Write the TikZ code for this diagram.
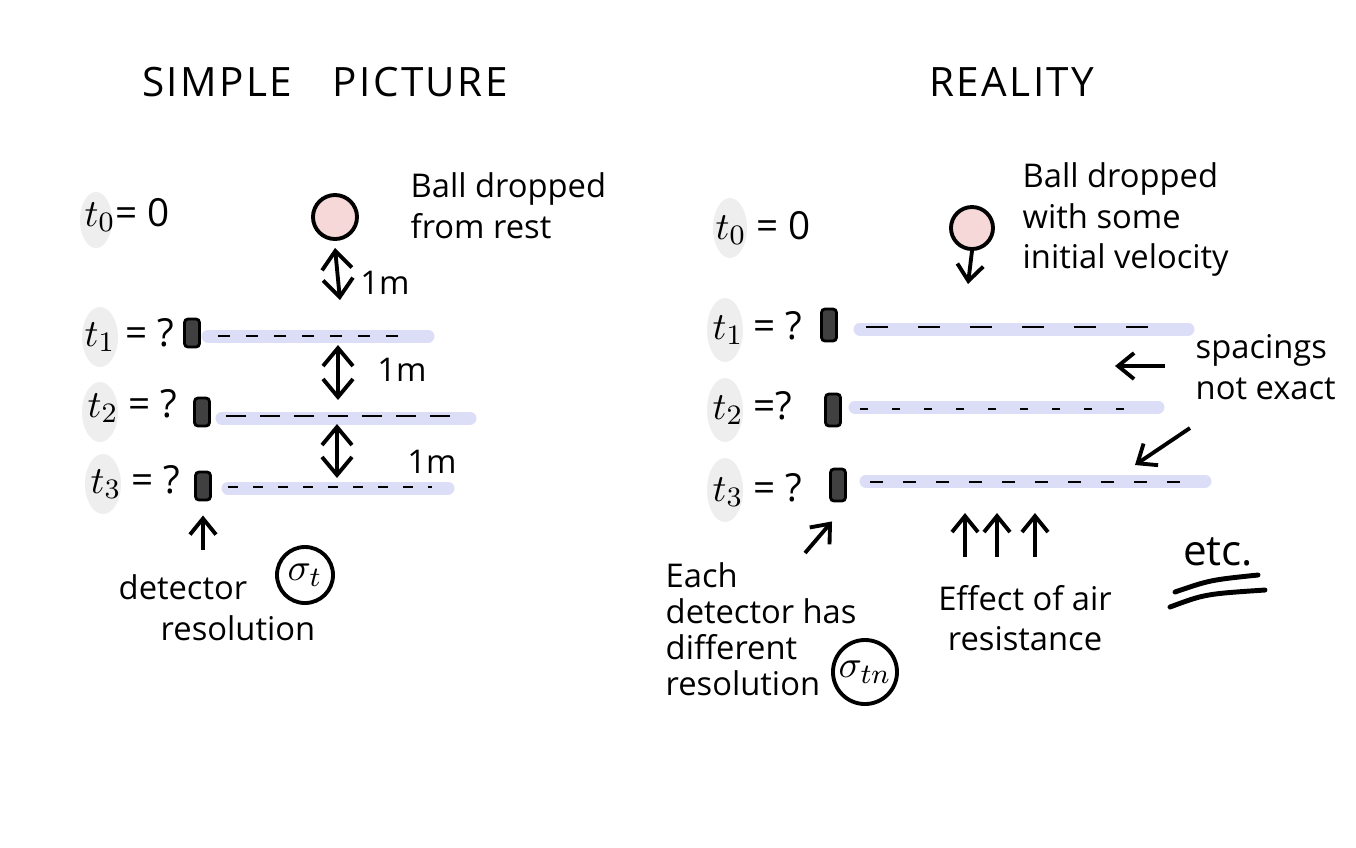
\documentclass[tikz,border=0pt]{standalone}
\usepackage{fontspec}
\setmainfont{Open Sans}
\usetikzlibrary{arrows.meta}

\definecolor{trackblue}{RGB}{220,222,248}
\definecolor{ballpink}{RGB}{246,216,216}
\definecolor{blobgrey}{RGB}{238,238,238}

\tikzset{
  blob/.style={fill=blobgrey},
  hand/.style={font=\fontsize{9.3}{11.5}\selectfont, align=left, inner sep=0pt},
  tlabel/.style={font=\fontsize{11}{13}\selectfont, inner sep=0pt, anchor=west},
  title/.style={font=\fontsize{11.5}{14}\selectfont\addfontfeatures{LetterSpace=6}, inner sep=0pt},
  ball/.style={circle, draw, line width=1.1pt, fill=ballpink, minimum size=0.44cm, inner sep=0pt},
  detector/.style={draw, line width=0.8pt, fill=black!75, minimum width=0.15cm, minimum height=0.28cm, inner sep=0pt, rounded corners=1pt},
  track/.style={line width=0.13cm, line cap=round, trackblue},
  marks/.style={line width=0.8pt, dash pattern=on 0.12cm off 0.16cm},
  pen/.style={line width=1.1pt, -{Straight Barb[length=1.6mm,width=2.6mm]}},
  both/.style={line width=1.1pt, {Straight Barb[length=1.8mm,width=3mm]}-{Straight Barb[length=1.8mm,width=3mm]}},
  sig/.style={circle, draw, line width=1.1pt, inner sep=0pt, font=\fontsize{11}{12}\selectfont},
}

\begin{document}
\begin{tikzpicture}[x=0.01cm,y=-0.01cm]
\useasboundingbox (0,0) rectangle (1356,847);

% simple picture
\node[title] (simple) at (325,82) {SIMPLE\quad PICTURE};
\fill[blob] (96,220) ellipse (0.16cm and 0.28cm);
\node[tlabel] (ta0) at (84,215) {$t_0$= 0};
\node[ball] (ballA) at (335,217) {};
\node[hand, anchor=north west] (restA) at (410,172) {Ball dropped\\from rest};

\fill[blob] (100,337) ellipse (0.18cm and 0.3cm);
\node[tlabel] (ta1) at (84,335) {$t_1$ = ?};
\node[detector] (detA1) at (192,333) {};
\coordinate (a1s) at (208,336); \coordinate (a1e) at (428,336);
\draw[track] (a1s) -- (a1e);
\draw[marks] (218,336) -- (410,336);

\fill[blob] (100,412) ellipse (0.18cm and 0.3cm);
\node[tlabel] (ta2) at (87,406) {$t_2$ = ?};
\node[detector] (detA2) at (202,412) {};
\coordinate (a2s) at (222,418); \coordinate (a2e) at (470,418);
\draw[track] (a2s) -- (a2e);
\draw[marks, dash pattern=on 0.2cm off 0.14cm] (226,416) -- (450,416);

\fill[blob] (103,484) ellipse (0.18cm and 0.3cm);
\node[tlabel] (ta3) at (90,482) {$t_3$ = ?};
\node[detector] (detA3) at (203,486) {};
\coordinate (a3s) at (228,488); \coordinate (a3e) at (448,488);
\draw[track] (a3s) -- (a3e);
\draw[marks, dash pattern=on 0.1cm off 0.15cm] (228,487) -- (432,487);

% one metre gaps
\coordinate (gA0) at (340,300); \coordinate (gA1) at (338,345);
\coordinate (gA2) at (338,400); \coordinate (gA3) at (337,424);
\coordinate (gA4) at (337,478);
\draw[both] ([yshift=-2pt]ballA.south) -- (gA0);
\draw[both] (gA1) -- (gA2);
\draw[both] (gA3) -- (gA4);
\node[hand] (mA1) at (385,283) {1m};
\node[hand] (mA2) at (402,370) {1m};
\node[hand] (mA3) at (432,462) {1m};

\coordinate (resA) at (203,550);
\draw[pen] (resA) -- ([yshift=-4pt]detA3.south);
\node[hand, anchor=north west] (detres) at (118,574) {detector\\\hspace*{0.42cm}resolution};
\node[sig, minimum size=0.56cm] (sigA) at (305,575) {$\sigma_t$};

% reality
\node[title] (real) at (1012,82) {REALITY};
\fill[blob] (730,228) ellipse (0.17cm and 0.3cm);
\node[tlabel] (tb0) at (715,228) {$t_0$ = 0};
\node[ball, minimum size=0.42cm] (ballB) at (972,228) {};
\coordinate (vB) at (968,284);
\draw[pen] (ballB.south) -- (vB);
\node[hand, anchor=north west] (velB) at (1022,162) {Ball dropped\\with some\\initial velocity};

\fill[blob] (725,330) ellipse (0.18cm and 0.32cm);
\node[tlabel] (tb1) at (712,328) {$t_1$ = ?};
\node[detector, minimum height=0.32cm] (detB1) at (829,325) {};
\coordinate (b1s) at (860,329); \coordinate (b1e) at (1188,329);
\draw[track] (b1s) -- (b1e);
\draw[marks, dash pattern=on 0.22cm off 0.3cm] (866,327) -- (1170,327);

\fill[blob] (725,410) ellipse (0.18cm and 0.32cm);
\node[tlabel] (tb2) at (712,408) {$t_2$ =?};
\node[detector, minimum height=0.32cm] (detB2) at (833,410) {};
\coordinate (b2s) at (855,407); \coordinate (b2e) at (1158,407);
\draw[track] (b2s) -- (b2e);
\draw[marks, dash pattern=on 0.08cm off 0.24cm] (860,409) -- (1140,409);

\fill[blob] (725,490) ellipse (0.18cm and 0.32cm);
\node[tlabel] (tb3) at (712,490) {$t_3$ = ?};
\node[detector, minimum height=0.32cm] (detB3) at (838,485) {};
\coordinate (b3s) at (866,481); \coordinate (b3e) at (1205,481);
\draw[track] (b3s) -- (b3e);
\draw[marks, dash pattern=on 0.13cm off 0.2cm] (870,482) -- (1190,482);

\node[hand, anchor=north west] (gapB) at (1195,334) {spacings\\not exact};
\coordinate (sp1) at (1165,366); \coordinate (sp1e) at (1115,366);
\coordinate (sp2) at (1190,428); \coordinate (sp2e) at (1135,465);
\draw[pen] (sp1) -- (sp1e);
\draw[pen] (sp2) -- (sp2e);

\coordinate (eachB) at (805,553);
\draw[pen] (eachB) -- ([xshift=-1.7pt,yshift=-5.4pt]detB3.south);
\node[hand, anchor=north west, font=\fontsize{9.3}{10.2}\selectfont] (eachtxt) at (665,562) {Each\\detector has\\different\\resolution};
\node[sig, minimum size=0.64cm] (sigB) at (865,672) {$\sigma_{tn}$};

\foreach \x [count=\i] in {965,997,1035}{
  \coordinate (air\i) at (\x,557);
  \draw[pen] (air\i) -- ++(0,-44);
}
\node[hand, align=center] (airtxt) at (1025,618) {Effect of air\\resistance};

\node[hand, font=\fontsize{12}{14}\selectfont] (etc) at (1218,552) {etc.};
\draw[line width=1.4pt, line cap=round] (1175,592) .. controls (1210,580) .. (1258,575);
\draw[line width=1.4pt, line cap=round] (1170,607) .. controls (1205,594) .. (1265,590);
\end{tikzpicture}
\end{document}
